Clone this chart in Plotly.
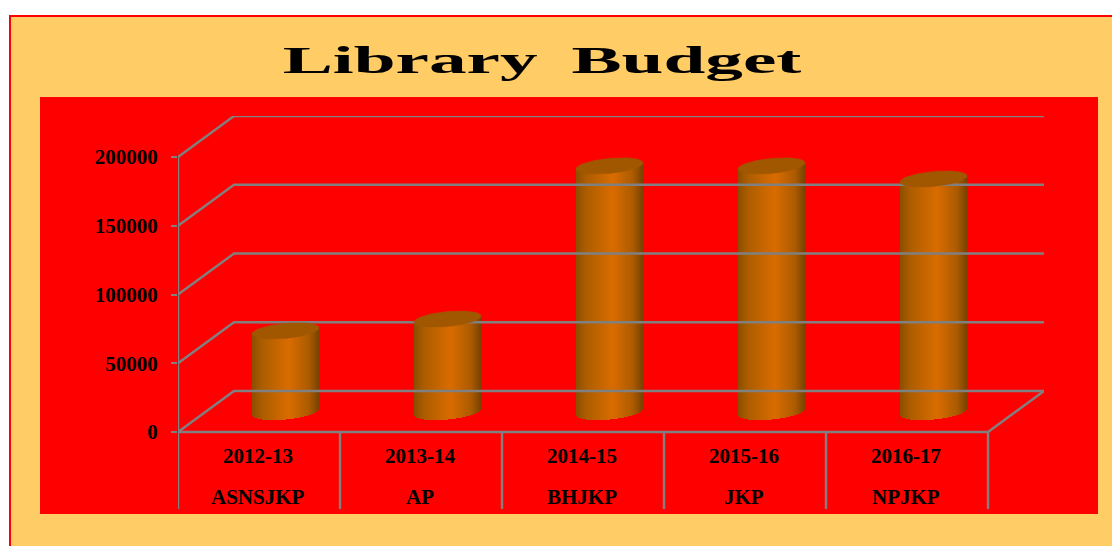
import math
import plotly.graph_objects as go

# ---- data ----
years = ["2012-13", "2013-14", "2014-15", "2015-16", "2016-17"]
libraries = ["ASNSJKP", "AP", "BHJKP", "JKP", "NPJKP"]
budget = [59000, 67600, 179000, 179000, 169500]
y_ticks = [0, 50000, 100000, 150000, 200000]
title_text = "Library\u00a0\u2009Budget"

# ---- geometry of the oblique projection ----
W, H = 1112, 546
L, R, T, B = 178, 1044, 116, 432        # plot box in page pixels
BOTTOM = 509                            # lower end of the label separators
PX_X = 162.0                            # pixels per category
PX_Y = 275.0 / 200000                   # pixels per budget unit
DEPTH_X = 56 / PX_X                     # wall offset, data units
DEPTH_Y = 41 / PX_Y
x0 = -0.5
x_end = x0 + (R - L) / PX_X
y_end = (B - T) / PX_Y
drop = -(BOTTOM - B) / PX_Y

GRID = "#808080"
FONT = "Liberation Serif"
LABEL_SIZE = 21


def xp(px):
    return px / W


def yp(px):
    return 1 - px / H


def mix(stops, t):
    for (t0, c0), (t1, c1) in zip(stops, stops[1:]):
        if t <= t1:
            f = (t - t0) / (t1 - t0)
            return "rgb(%d,%d,%d)" % tuple(round(a + (b - a) * f) for a, b in zip(c0, c1))
    return "rgb(%d,%d,%d)" % stops[-1][1]


SHADE = [(0.0, (140, 78, 0)), (0.15, (172, 93, 0)), (0.55, (217, 108, 0)),
         (0.85, (172, 91, 0)), (1.0, (120, 66, 0))]

fig = go.Figure()

# grid: floor edges, back wall and left wall lines, all from the tick values
gx, gy = [], []
for v in y_ticks:
    gx += [x0, x0 + DEPTH_X, x_end, None]
    gy += [v, v + DEPTH_Y, v + DEPTH_Y, None]
n = len(years)
x_front_end = x0 + n
gx += [x0, x_front_end, x_end, None]
gy += [0, 0, DEPTH_Y, None]
gx += [x0, x0, None]
gy += [drop, y_ticks[-1], None]
for k in range(1, n + 1):
    gx += [x0 + k, x0 + k, None]
    gy += [drop, 0, None]
fig.add_trace(go.Scatter(x=gx, y=gy, mode="lines", line=dict(color=GRID, width=2.4),
                         hoverinfo="skip", showlegend=False))

# cylinder bodies as 1-pixel strips, caps as skewed ellipses
A_PX, B_PX, S_PX = 33.5, 7.5, 3.0
CX_SHIFT = -1.5 / PX_X
a = A_PX / PX_X
b = B_PX / PX_Y
s = S_PX / PX_Y
cy0 = DEPTH_Y / 2 - 0.5 / PX_Y
STRIPS = 67
sx, sbase, sh, scol = [], [], [], []
for i, v in enumerate(budget):
    cx = i + DEPTH_X / 2 + CX_SHIFT
    for j in range(STRIPS):
        t = (j + 0.5) / STRIPS
        u = 2 * t - 1
        low = cy0 - b * math.sqrt(max(0, 1 - u * u)) + s * u
        high = cy0 + v + s * u
        sx.append(cx + a * u)
        sbase.append(low)
        sh.append(high - low)
        scol.append(mix(SHADE, t))
fig.add_trace(go.Bar(x=sx, y=sh, base=sbase, width=[2 * a / STRIPS] * len(sx),
                     marker=dict(color=scol, line=dict(width=0)),
                     hoverinfo="skip", showlegend=False))

for i, v in enumerate(budget):
    cx = i + DEPTH_X / 2 + CX_SHIFT
    ex, ey = [], []
    for k in range(73):
        th = 2 * math.pi * k / 72
        ex.append(cx + a * math.cos(th))
        ey.append(cy0 + v + b * math.sin(th) + s * math.cos(th))
    fig.add_trace(go.Scatter(x=ex, y=ey, mode="lines", fill="toself", fillcolor="#A05700",
                             line=dict(color="#A05700", width=0.5),
                             hoverinfo="skip", showlegend=False))

# page panels
shapes = [
    dict(type="rect", xref="paper", yref="paper", x0=xp(10), x1=xp(W + 5), y0=yp(H + 5), y1=yp(16),
         fillcolor="#FFCC66", line=dict(color="#FF0000", width=2), layer="below"),
    dict(type="rect", xref="paper", yref="paper", x0=xp(40), x1=xp(1098), y0=yp(514), y1=yp(97),
         fillcolor="#FF0000", line=dict(width=0), layer="below"),
]

# two rows of category labels
label_font = dict(family=FONT, size=LABEL_SIZE, color="#000000")
annotations = []
for row_px, row in ((456, years), (497, libraries)):
    for i, name in enumerate(row):
        annotations.append(dict(x=i - 1 / PX_X, y=yp(row_px), xref="x", yref="paper",
                                text="<b>%s</b>" % name, showarrow=False,
                                xanchor="center", yanchor="middle", font=label_font))

fig.update_layout(
    width=W, height=H, autosize=False,
    margin=dict(l=0, r=0, t=0, b=0, pad=0),
    paper_bgcolor="#FFFFFF", plot_bgcolor="rgba(0,0,0,0)",
    barmode="overlay", bargap=0, showlegend=False,
    shapes=shapes, annotations=annotations,
    title=dict(text="<b>%s</b>" % title_text, x=542 / W, xref="container", xanchor="center",
               y=yp(60), yref="container", yanchor="middle",
               font=dict(family=FONT, size=38, color="#000000")),
    xaxis=dict(domain=[L / W, R / W], range=[x0, x_end], showticklabels=False,
               showgrid=False, zeroline=False, showline=False, ticks=""),
    yaxis=dict(domain=[1 - BOTTOM / H, 1 - T / H], range=[drop, y_end], tickmode="array",
               tickvals=y_ticks, ticktext=["<b>%d</b>" % v for v in y_ticks],
               showgrid=False, zeroline=False, showline=False,
               ticks="outside", ticklen=6, tickwidth=2, tickcolor=GRID,
               ticklabelstandoff=9, tickfont=label_font),
)

post = """
document.body.style.margin = '0';
document.body.style.overflow = 'hidden';
var t = document.querySelector('.gtitle');
if (t) { t.setAttribute('transform', 'translate(542,0) scale(1.98,1) translate(-542,0)'); }
"""
fig.write_html("out.html", post_script=post, config=dict(displayModeBar=False))
